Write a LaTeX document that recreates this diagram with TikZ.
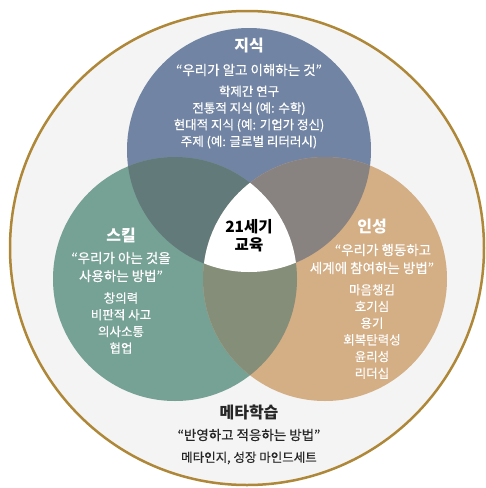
\documentclass[tikz,border=0pt]{standalone}
\usepackage{fontspec}
\setmainfont{Noto Sans CJK KR}
\newfontfamily\krmed{Noto Sans CJK KR}[FakeBold=0.5]
\definecolor{cblue}{HTML}{7284A3}
\definecolor{cgreen}{HTML}{76A195}
\definecolor{ctan}{HTML}{D4AE85}
\definecolor{cbg}{HTML}{627A7A}
\definecolor{cbt}{HTML}{888280}
\definecolor{cgt}{HTML}{858E78}
\definecolor{cback}{HTML}{F3F4F3}
\definecolor{cgold}{HTML}{AE8838}
\definecolor{cdark}{HTML}{262626}
\tikzset{
  ttl/.style={text=white, font=\fontsize{16}{18}\selectfont\bfseries, inner sep=0pt},
  quot/.style={text=white, font=\krmed\fontsize{13.5}{18}\selectfont, inner sep=0pt, align=center},
  lst/.style={text=white, font=\krmed\fontsize{12.5}{16.7}\selectfont, inner sep=0pt, align=center},
}
\begin{document}
\begin{tikzpicture}[x=1pt,y=-1pt]
\useasboundingbox (0,0) rectangle (486,488);
\fill[white] (0,0) rectangle (486,488);
\draw[draw=cgold, line width=2.5pt, fill=cback] (247,248) circle (237pt);
\fill[cblue] (249,150) circle (122pt);
\fill[cgreen] (175,279) circle (122pt);
\fill[ctan] (325,279) circle (122pt);
\begin{scope}
  \clip (249,150) circle (122pt);
  \fill[cbg] (175,279) circle (122pt);
  \fill[cbt] (325,279) circle (122pt);
\end{scope}
\begin{scope}
  \clip (175,279) circle (122pt);
  \fill[cgt] (325,279) circle (122pt);
\end{scope}
\begin{scope}
  \clip (249,150) circle (122pt);
  \clip (175,279) circle (122pt);
  \fill[white] (325,279) circle (122pt);
\end{scope}
% knowledge
\node[ttl] (kt) at (249,46) {지식};
\node[quot] (kq) at (249,70) {“우리가 알고 이해하는 것”};
\node[lst] (kl) at (249,117) {학제간 연구\\전통적 지식 (예: 수학)\\현대적 지식 (예: 기업가 정신)\\주제 (예: 글로벌 리터러시)};
% skills
\node[ttl] (st) at (121,235) {스킬};
\node[quot] (sq) at (121,267) {“우리가 아는 것을\\사용하는 방법”};
\node[lst] (sl) at (121,323) {창의력\\비판적 사고\\의사소통\\협업};
% character
\node[ttl] (ct) at (372,227) {인성};
\node[quot] (cq1) at (383,250) {“우리가 행동하고};
\node[quot] (cq2) at (372,268) {세계에 참여하는 방법”};
\node[lst] (cl) at (372,331.5) {마음챙김\\호기심\\용기\\회복탄력성\\윤리성\\리더십};
% center
\node[ttl, text=black, align=center, font=\fontsize{15.5}{18}\selectfont\bfseries] (cen) at (249,236) {21세기\\교육};
% meta
\node[ttl, text=cdark] (mt) at (249,412) {메타학습};
\node[quot, text=cdark] (mq) at (249,435) {“반영하고 적응하는 방법”};
\node[lst, text=cdark] (ml) at (249,458) {메타인지, 성장 마인드세트};
\end{tikzpicture}
\end{document}
